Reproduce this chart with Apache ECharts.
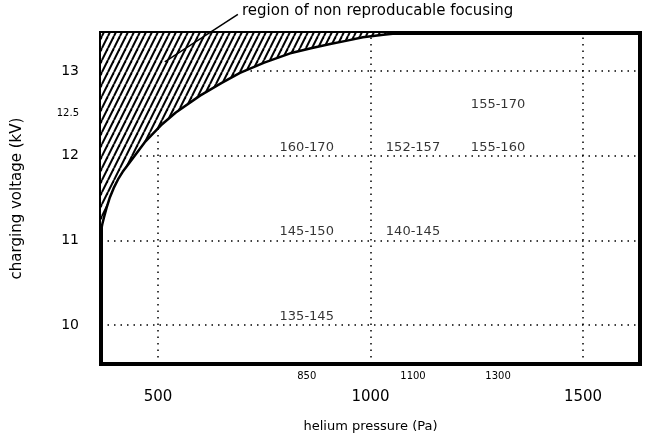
<!DOCTYPE html>
<html>
<head>
<meta charset="utf-8">
<script src="https://cdn.jsdelivr.net/npm/echarts@6/dist/echarts.min.js"></script>
<style>
html,body{margin:0;padding:0;background:#fff;}
#chart{width:648px;height:438px;}
</style>
</head>
<body>
<div id="chart"></div>
<script>
// ---- data ----
const boundaryPressure = [366, 369, 373, 380, 387, 396, 406, 417, 429, 444, 469, 507, 542, 599, 650, 693, 750, 811, 860, 905, 945, 982, 1030, 1069];
const boundaryVoltage  = [11.11, 11.19, 11.27, 11.40, 11.51, 11.62, 11.72, 11.81, 11.89, 11.99, 12.16, 12.36, 12.51, 12.71, 12.86, 12.98, 13.10, 13.21, 13.27, 13.32, 13.36, 13.40, 13.43, 13.45];

const rangePressure = [850, 1100, 1300, 1300, 850, 1100, 850];
const rangeVoltage  = [12, 12, 12, 12.5, 11, 11, 10];
const rangeText     = ['160-170', '152-157', '155-160', '155-170', '145-150', '140-145', '135-145'];

const xMajorTicks = [500, 1000, 1500];
const xMinorTicks = [850, 1100, 1300];
const yTicks = [10, 11, 12, 12.5, 13];
const xGridLines = [500, 1000, 1500];
const yGridLines = [10, 11, 12, 13];

const annotationText = 'region of non reproducable focusing';
const leaderPressure = [688, 516];
const leaderVoltage = [13.67, 13.11];

// ---- hatch pattern ----
function makeHatch() {
  const c = document.createElement('canvas');
  const w = 6, h = 12;
  c.width = w; c.height = h;
  const g = c.getContext('2d');
  g.fillStyle = '#fff';
  g.fillRect(0, 0, w, h);
  g.strokeStyle = '#000';
  g.lineWidth = 2;
  for (const off of [-w, 0, w]) {
    g.beginPath();
    g.moveTo(off, h);
    g.lineTo(off + w, 0);
    g.stroke();
  }
  return c;
}

const FONT = 'DejaVu Sans';
const chart = echarts.init(document.getElementById('chart'), null, {renderer: 'canvas'});

const boundaryData = boundaryPressure.map((p, i) => [p, boundaryVoltage[i]]);
const rangeData = rangePressure.map((p, i) => ({value: [p, rangeVoltage[i]], label: {formatter: rangeText[i]}}));

chart.setOption({
  animation: false,
  backgroundColor: '#fff',
  grid: {left: 101, right: 8, top: 33, bottom: 73, show: true, borderColor: '#000', borderWidth: 4, backgroundColor: 'transparent'},
  xAxis: [
    {
      type: 'value', min: 366, max: 1634,
      axisLine: {show: false}, axisTick: {show: false}, splitLine: {show: false},
      axisLabel: {customValues: xMajorTicks, margin: 26, fontSize: 15, color: '#000', fontFamily: FONT, formatter: v => String(v)},
      name: 'helium pressure (Pa)', nameLocation: 'middle', nameGap: 56,
      nameTextStyle: {fontSize: 13, color: '#000', fontFamily: FONT}
    },
    {
      type: 'value', min: 366, max: 1634, position: 'bottom',
      axisLine: {show: false}, axisTick: {show: false}, splitLine: {show: false},
      axisLabel: {customValues: xMinorTicks, margin: 7, fontSize: 10, color: '#000', fontFamily: FONT, formatter: v => String(v)}
    }
  ],
  yAxis: {
    type: 'value', min: 9.54, max: 13.45,
    axisLine: {show: false}, axisTick: {show: false}, splitLine: {show: false},
    axisLabel: {
      customValues: yTicks, margin: 22, color: '#000', fontFamily: FONT,
      formatter: v => v === 12.5 ? '{s|12.5}' : '{b|' + v + '}',
      rich: {b: {fontSize: 14, fontFamily: FONT, color: '#000'}, s: {fontSize: 10, fontFamily: FONT, color: '#000'}}
    },
    name: 'charging voltage (kV)', nameLocation: 'middle', nameGap: 76, nameRotate: 90,
    nameTextStyle: {fontSize: 15, color: '#000', fontFamily: FONT}
  },
  series: [
    {
      name: 'grid', type: 'scatter', data: [], z: 1,
      markLine: {
        z: 1, silent: true, symbol: 'none', label: {show: false},
        lineStyle: {color: '#000', width: 1.5, type: [1.5, 5]},
        data: xGridLines.map(v => ({xAxis: v})).concat(yGridLines.map(v => ({yAxis: v})))
      }
    },
    {
      name: 'boundary', type: 'line', data: boundaryData, z: 10,
      smooth: false, symbol: 'none', clip: true,
      lineStyle: {color: '#000', width: 2.5},
      areaStyle: {origin: 'end', opacity: 1, color: {image: makeHatch(), repeat: 'repeat'}}
    },
    {
      name: 'ranges', type: 'scatter', data: rangeData, z: 11,
      symbolSize: 0,
      label: {show: true, position: 'top', distance: 2, fontSize: 13, color: '#000', fontFamily: FONT}
    }
  ],
  graphic: [
    {type: 'text', left: 242, top: 4, style: {text: annotationText, fontSize: 15, fill: '#000', fontFamily: FONT}}
  ]
});

const a = chart.convertToPixel({gridIndex: 0}, [leaderPressure[0], leaderVoltage[0]]);
const b = chart.convertToPixel({gridIndex: 0}, [leaderPressure[1], leaderVoltage[1]]);
chart.setOption({
  graphic: [
    {type: 'text', left: 242, top: 4, style: {text: annotationText, fontSize: 15, fill: '#000', fontFamily: FONT}},
    {type: 'line', shape: {x1: a[0], y1: a[1], x2: b[0], y2: b[1]}, style: {stroke: '#000', lineWidth: 1.5}, z: 20}
  ]
});
</script>
</body>
</html>
